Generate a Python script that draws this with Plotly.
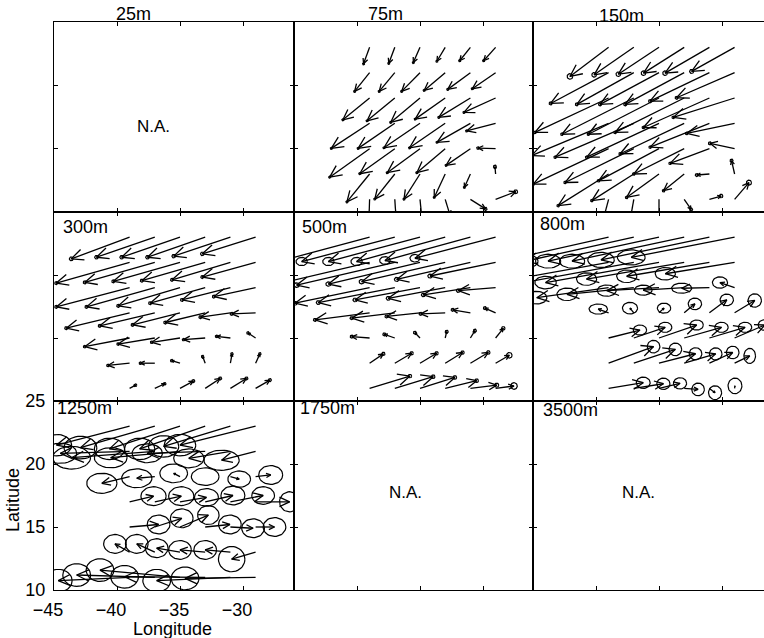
import numpy as np
import plotly.graph_objects as go

# ---------------- data ----------------
# arrow tails (grid shared by all depths); rows = latitudes, cols = longitudes
lon_tail = [-39, -37, -35, -33, -31, -29]
lat_tail = [23, 21, 19, 17, 15, 13, 11]

depth_labels = ["25m", "75m", "150m", "300m", "500m", "800m", "1250m", "1750m", "3500m"]
na_label = "N.A."
x_ticks = [-45, -40, -35, -30]
y_ticks = [10, 15, 20, 25]

# velocity components (degrees of displacement), rows lat 23..11, cols lon -39..-29
u_75 = [[-0.48, -0.48, -0.53, -0.66, -0.85, -0.95],
        [-1.19, -1.24, -1.46, -1.67, -1.80, -1.85],
        [-2.12, -2.20, -2.33, -2.38, -2.51, -2.51],
        [-3.04, -2.91, -2.86, -2.83, -2.65, -2.30],
        [-3.17, -2.78, -2.60, -2.25, -1.93, -1.40],
        [-1.80, -1.59, -1.27, -0.87, -0.48, -0.05],
        [-0.05, 0.10, 0.15, 0.40, 1.20, 1.60]]
v_75 = [[-1.30, -1.27, -1.20, -1.10, -1.06, -1.06],
        [-1.48, -1.48, -1.48, -1.40, -1.32, -1.27],
        [-1.72, -1.80, -1.93, -1.67, -1.53, -1.14],
        [-1.98, -1.98, -1.93, -1.93, -1.50, -0.60],
        [-2.25, -1.98, -1.90, -1.90, -1.32, 0.05],
        [-2.20, -1.98, -1.98, -1.85, -1.06, 0.58],
        [-1.50, -1.50, -1.50, -1.30, -0.75, 0.60]]
ea_75 = [[0.08, 0.08, 0.08, 0.08, 0.08, 0.08],
         [0.08, 0.08, 0.08, 0.08, 0.08, 0.08],
         [0.08, 0.08, 0.08, 0.08, 0.08, 0.08],
         [0.08, 0.08, 0.08, 0.08, 0.08, 0.08],
         [0.08, 0.08, 0.08, 0.08, 0.08, 0.10],
         [0.08, 0.08, 0.08, 0.08, 0.08, 0.12],
         [0.08, 0.08, 0.08, 0.08, 0.12, 0.15]]
eb_75 = ea_75

u_150 = [[-3.07, -3.15, -3.23, -3.23, -3.52, -3.41],
         [-4.60, -4.52, -4.68, -4.68, -4.71, -4.60],
         [-5.85, -5.70, -5.60, -5.48, -5.24, -4.87],
         [-6.10, -6.24, -5.74, -5.08, -4.70, -3.80],
         [-5.98, -5.45, -4.80, -4.00, -3.12, -1.96],
         [-4.00, -3.33, -2.57, -1.64, -1.00, -0.24],
         [-0.40, -0.25, 0.00, 0.55, 0.93, 1.14]]
v_150 = [[-2.30, -2.17, -2.12, -2.04, -2.04, -1.90],
         [-2.43, -2.50, -2.50, -2.50, -2.25, -1.98],
         [-2.72, -2.86, -2.86, -2.72, -2.33, -1.53],
         [-2.54, -2.67, -2.67, -2.40, -1.88, -0.80],
         [-2.80, -2.67, -2.54, -2.00, -1.16, 0.42],
         [-2.50, -2.10, -1.85, -1.32, -0.08, 1.06],
         [-1.50, -1.40, -1.50, -0.80, 0.26, 1.32]]
ea_150 = [[0.22, 0.18, 0.18, 0.18, 0.18, 0.16],
          [0.12, 0.12, 0.12, 0.12, 0.12, 0.12],
          [0.10, 0.10, 0.10, 0.10, 0.10, 0.10],
          [0.10, 0.10, 0.10, 0.10, 0.10, 0.10],
          [0.10, 0.10, 0.10, 0.10, 0.10, 0.12],
          [0.10, 0.10, 0.10, 0.10, 0.12, 0.12],
          [0.10, 0.10, 0.10, 0.12, 0.14, 0.20]]
eb_150 = ea_150

u_300 = [[-4.63, -4.63, -4.63, -4.58, -4.50, -4.23],
         [-5.82, -5.56, -5.29, -5.03, -4.63, -4.23],
         [-5.82, -5.42, -4.90, -4.37, -3.84, -3.31],
         [-5.03, -4.37, -3.76, -3.17, -2.38, -1.90],
         [-3.57, -2.91, -2.25, -1.72, -1.10, -0.60],
         [-1.72, -1.14, -0.66, -0.20, 0.13, 0.34],
         [0.48, 0.79, 1.06, 1.19, 1.27, 1.14]]
v_300 = [[-1.72, -1.59, -1.59, -1.59, -1.50, -1.32],
         [-1.64, -1.59, -1.50, -1.45, -1.38, -1.16],
         [-1.53, -1.53, -1.45, -1.24, -0.98, -0.71],
         [-1.22, -1.03, -0.95, -0.77, -0.34, -0.08],
         [-0.69, -0.48, -0.34, -0.13, 0.13, 0.40],
         [-0.18, 0.00, 0.20, 0.53, 0.74, 0.74],
         [0.26, 0.37, 0.58, 0.79, 0.79, 0.66]]
ea_300 = [[0.15, 0.14, 0.14, 0.14, 0.14, 0.14],
          [0.12, 0.12, 0.12, 0.12, 0.12, 0.12],
          [0.12, 0.12, 0.12, 0.12, 0.12, 0.12],
          [0.12, 0.12, 0.12, 0.12, 0.12, 0.12],
          [0.10, 0.10, 0.10, 0.10, 0.10, 0.10],
          [0.10, 0.10, 0.10, 0.10, 0.10, 0.10],
          [0.10, 0.10, 0.12, 0.12, 0.12, 0.12]]
eb_300 = ea_300

u_500 = [[-7.50, -7.39, -7.27, -7.03, -6.78, -6.40],
         [-7.90, -7.79, -7.27, -6.63, -5.85, -5.20],
         [-5.92, -6.07, -5.16, -4.52, -3.74, -2.96],
         [-4.33, -3.42, -2.65, -1.95, -1.41, -0.85],
         [-1.42, -0.83, -0.40, 0.12, 0.36, 0.61],
         [1.09, 1.34, 1.32, 1.38, 1.42, 1.09],
         [3.20, 3.05, 2.77, 2.50, 2.09, 1.46]]
v_500 = [[-2.00, -1.93, -1.93, -1.93, -1.85, -1.67],
         [-1.85, -1.80, -1.72, -1.53, -1.35, -1.08],
         [-1.24, -1.19, -0.98, -0.85, -0.58, -0.24],
         [-0.56, -0.42, -0.29, -0.08, 0.24, 0.37],
         [0.11, 0.29, 0.42, 0.50, 0.58, 0.77],
         [0.74, 0.79, 0.79, 0.85, 0.85, 0.63],
         [0.98, 0.93, 0.87, 0.61, 0.26, 0.19]]
ea_500 = [[0.45, 0.45, 0.45, 0.45, 0.42, 0.40],
          [0.22, 0.22, 0.20, 0.20, 0.18, 0.18],
          [0.16, 0.16, 0.16, 0.16, 0.15, 0.15],
          [0.13, 0.13, 0.13, 0.12, 0.12, 0.12],
          [0.12, 0.12, 0.12, 0.12, 0.12, 0.14],
          [0.13, 0.13, 0.13, 0.13, 0.14, 0.22],
          [0.14, 0.14, 0.14, 0.14, 0.16, 0.26]]
eb_500 = [[0.33, 0.33, 0.33, 0.33, 0.31, 0.30],
          [0.18, 0.18, 0.17, 0.17, 0.16, 0.16],
          [0.15, 0.15, 0.15, 0.15, 0.14, 0.14],
          [0.12, 0.12, 0.12, 0.12, 0.12, 0.12],
          [0.12, 0.12, 0.12, 0.12, 0.12, 0.14],
          [0.13, 0.13, 0.13, 0.13, 0.14, 0.22],
          [0.14, 0.14, 0.14, 0.14, 0.16, 0.26]]

u_800 = [[-8.50, -8.60, -8.80, -8.90, -8.60, -8.20],
         [-9.50, -9.30, -9.00, -7.75, -6.56, -5.50],
         [-5.70, -5.30, -4.15, -3.25, -2.20, -1.16],
         [-0.82, -0.30, 0.40, 0.85, 1.38, 1.60],
         [2.49, 2.49, 2.99, 2.96, 2.83, 2.40],
         [3.57, 3.30, 2.90, 2.50, 1.85, 1.20],
         [2.75, 2.35, 1.67, 1.10, 0.45, 0.03]]
v_800 = [[-1.90, -1.90, -1.90, -1.90, -1.80, -1.60],
         [-1.70, -1.70, -1.60, -1.32, -1.10, -0.90],
         [-0.80, -0.53, -0.24, -0.20, -0.05, 0.40],
         [0.30, 0.37, 0.37, 0.71, 1.03, 0.98],
         [0.63, 0.85, 1.03, 0.85, 0.85, 1.03],
         [1.32, 1.10, 0.75, 0.74, 0.85, 0.58],
         [0.45, 0.37, 0.40, -0.08, -0.34, 0.20]]
ea_800 = [[1.00, 1.00, 1.00, 1.00, 1.05, 1.10],
          [0.85, 0.85, 0.85, 0.80, 0.80, 0.80],
          [0.80, 0.80, 0.75, 0.70, 0.80, 0.60],
          [0.73, 0.60, 0.53, 0.53, 0.53, 0.53],
          [0.53, 0.53, 0.53, 0.53, 0.53, 0.53],
          [0.50, 0.50, 0.50, 0.50, 0.50, 0.46],
          [0.55, 0.52, 0.52, 0.50, 0.52, 0.55]]
eb_800 = [[0.55, 0.55, 0.55, 0.55, 0.60, 0.60],
          [0.50, 0.50, 0.50, 0.50, 0.50, 0.50],
          [0.50, 0.50, 0.45, 0.40, 0.40, 0.45],
          [0.40, 0.46, 0.40, 0.46, 0.46, 0.53],
          [0.40, 0.40, 0.40, 0.40, 0.40, 0.42],
          [0.50, 0.50, 0.48, 0.48, 0.50, 0.60],
          [0.45, 0.45, 0.45, 0.50, 0.55, 0.62]]

u_1250 = [[-5.80, -5.90, -5.60, -5.20, -5.30, -6.00],
          [-5.50, -6.60, -5.50, -4.60, -3.30, -2.70],
          [-2.20, -1.43, -0.50, 0.00, 0.70, 1.20],
          [1.90, 2.10, 2.10, 2.20, 2.60, 2.70],
          [2.30, 2.14, 2.25, 1.96, 1.80, 1.50],
          [-1.16, -1.43, -1.85, -2.00, -2.00, -1.90],
          [-5.66, -6.20, -6.35, -6.40, -5.85, -5.60]]
v_1250 = [[-1.50, -1.70, -1.80, -1.80, -1.60, -1.50],
          [-0.15, -0.50, -0.50, -0.15, -0.55, -0.70],
          [-0.53, -0.13, 0.26, 0.00, -0.20, 0.13],
          [0.45, 0.45, 0.35, 0.50, 0.50, 0.00],
          [0.20, 0.69, 0.95, 0.20, -0.10, 0.00],
          [0.66, 0.66, 0.32, 0.18, 0.18, -0.55],
          [-0.26, 0.19, 0.58, 0.05, -0.26, -0.08]]
ea_1250 = [[1.20, 1.30, 1.20, 1.20, 1.20, 1.25],
           [1.30, 1.50, 1.30, 1.20, 1.20, 1.40],
           [1.20, 1.20, 1.10, 1.10, 0.90, 0.95],
           [1.00, 1.00, 0.95, 0.95, 0.90, 0.80],
           [0.90, 0.90, 0.85, 0.90, 0.90, 0.90],
           [0.90, 0.90, 0.90, 0.90, 0.90, 1.05],
           [1.10, 1.10, 1.10, 1.10, 1.10, 1.10]]
eb_1250 = [[0.85, 0.90, 0.85, 0.85, 0.85, 0.85],
           [0.80, 0.90, 0.80, 0.75, 0.75, 0.80],
           [0.80, 0.75, 0.75, 0.70, 0.65, 0.75],
           [0.75, 0.75, 0.70, 0.75, 0.70, 0.80],
           [0.75, 0.75, 0.75, 0.75, 0.75, 0.75],
           [0.75, 0.75, 0.75, 0.75, 0.75, 1.00],
           [0.90, 0.90, 0.90, 0.90, 0.90, 0.90]]

# panel index (0..8, row-major) -> data
panel_data = {
    1: (u_75, v_75, ea_75, eb_75),
    2: (u_150, v_150, ea_150, eb_150),
    3: (u_300, v_300, ea_300, eb_300),
    4: (u_500, v_500, ea_500, eb_500),
    5: (u_800, v_800, ea_800, eb_800),
    6: (u_1250, v_1250, ea_1250, eb_1250),
}

# ---------------- layout constants ----------------
W, H = 764, 638
col_px = [(54, 294), (294, 533), (533, 764)]
row_px = [(22, 212), (212, 401), (401, 590)]
px_per_deg = 12.6
FONT = "Liberation Sans, Arial, Helvetica, sans-serif"


def quiver_lines(u, v):
    xs, ys = [], []
    for i, la in enumerate(lat_tail):
        for j, lo in enumerate(lon_tail):
            du, dv = u[i][j], v[i][j]
            hx, hy = lo + du, la + dv
            xs += [lo, hx, None]
            ys += [la, hy, None]
            L = float(np.hypot(du, dv))
            if L > 1e-6:
                h = min(0.33 * L, 1.05)
                ang = np.arctan2(dv, du)
                spread = np.radians(25)
                a1 = ang + np.pi - spread
                a2 = ang + np.pi + spread
                xs += [hx + h * np.cos(a1), hx, hx + h * np.cos(a2), None]
                ys += [hy + h * np.sin(a1), hy, hy + h * np.sin(a2), None]
    return xs, ys


def ellipse_lines(u, v, ea, eb):
    t = np.linspace(0, 2 * np.pi, 41)
    xs, ys = [], []
    for i, la in enumerate(lat_tail):
        for j, lo in enumerate(lon_tail):
            hx, hy = lo + u[i][j], la + v[i][j]
            xs += list(hx + ea[i][j] * np.cos(t)) + [None]
            ys += list(hy + eb[i][j] * np.sin(t)) + [None]
    return xs, ys


fig = go.Figure()
layout = dict(
    width=W, height=H,
    margin=dict(l=0, r=0, t=0, b=0),
    paper_bgcolor="white", plot_bgcolor="white",
    showlegend=False,
    font=dict(family=FONT, size=18, color="black"),
    annotations=[],
)

for k in range(9):
    r, c = divmod(k, 3)
    n = k + 1
    sfx = "" if n == 1 else str(n)
    x0, x1 = col_px[c]
    y0, y1 = row_px[r]
    xr = [-45, -45 + (x1 - x0) / px_per_deg]
    labelled = (k == 6)
    layout["xaxis" + sfx] = dict(
        domain=[x0 / W, x1 / W], anchor="y" + sfx, range=xr,
        showline=True, linecolor="black", linewidth=1.2, mirror="ticks",
        ticks="inside", ticklen=4, tickwidth=1, tickcolor="black",
        tickvals=x_ticks, showticklabels=labelled,
        ticklabelstandoff=3, ticklabelshift=-6,
        tickfont=dict(family=FONT, size=18, color="black"),
        showgrid=False, zeroline=False, fixedrange=True, automargin=False,
    )
    layout["yaxis" + sfx] = dict(
        domain=[1 - y1 / H, 1 - y0 / H], anchor="x" + sfx, range=[10, 25],
        showline=True, linecolor="black", linewidth=1.2,
        mirror=("ticks" if c < 2 else False),
        ticks="inside", ticklen=4, tickwidth=1, tickcolor="black",
        tickvals=y_ticks, showticklabels=labelled, ticklabelstandoff=4,
        tickfont=dict(family=FONT, size=18, color="black"),
        showgrid=False, zeroline=False, fixedrange=True, automargin=False,
    )
    xref, yref = "x" + sfx, "y" + sfx
    if k in panel_data:
        u, v, ea, eb = panel_data[k]
        qx, qy = quiver_lines(u, v)
        ex, ey = ellipse_lines(u, v, ea, eb)
        fig.add_trace(go.Scatter(x=ex, y=ey, mode="lines", xaxis=xref, yaxis=yref,
                                 line=dict(color="black", width=1.2), hoverinfo="skip"))
        fig.add_trace(go.Scatter(x=qx, y=qy, mode="lines", xaxis=xref, yaxis=yref,
                                 line=dict(color="black", width=1.3), hoverinfo="skip"))
    else:
        fig.add_trace(go.Scatter(x=[None], y=[None], mode="lines", xaxis=xref, yaxis=yref))

# depth labels (pixel anchor, alignment)
label_pos = [(133, 14, "center"), (385, 14, "center"), (621, 16, "center"),
             (61, 227, "left"), (300, 227, "left"), (538, 224, "left"),
             (55, 408, "left"), (298, 408, "left"), (541, 410, "left")]
for text, (px, py, al) in zip(depth_labels, label_pos):
    layout["annotations"].append(dict(
        text=text, xref="paper", yref="paper", x=px / W, y=1 - py / H,
        xanchor=al, yanchor="middle", showarrow=False,
        font=dict(family=FONT, size=18, color="black")))

na_pos = [(153, 127), (405, 492), (638, 492)]
for (px, py) in na_pos:
    layout["annotations"].append(dict(
        text=na_label, xref="paper", yref="paper", x=px / W, y=1 - py / H,
        xanchor="center", yanchor="middle", showarrow=False,
        font=dict(family=FONT, size=17, color="black")))

layout["annotations"].append(dict(
    text="Longitude", xref="paper", yref="paper", x=172 / W, y=1 - 629 / H,
    xanchor="center", yanchor="middle", showarrow=False,
    font=dict(family=FONT, size=18, color="black")))
layout["annotations"].append(dict(
    text="Latitude", xref="paper", yref="paper", x=13 / W, y=1 - 500 / H,
    xanchor="center", yanchor="middle", showarrow=False, textangle=-90,
    font=dict(family=FONT, size=18, color="black")))

fig.update_layout(**layout)
fig.write_html("out.html", config={"displayModeBar": False},
               post_script="document.body.style.margin='0';document.body.style.overflow='hidden';")
